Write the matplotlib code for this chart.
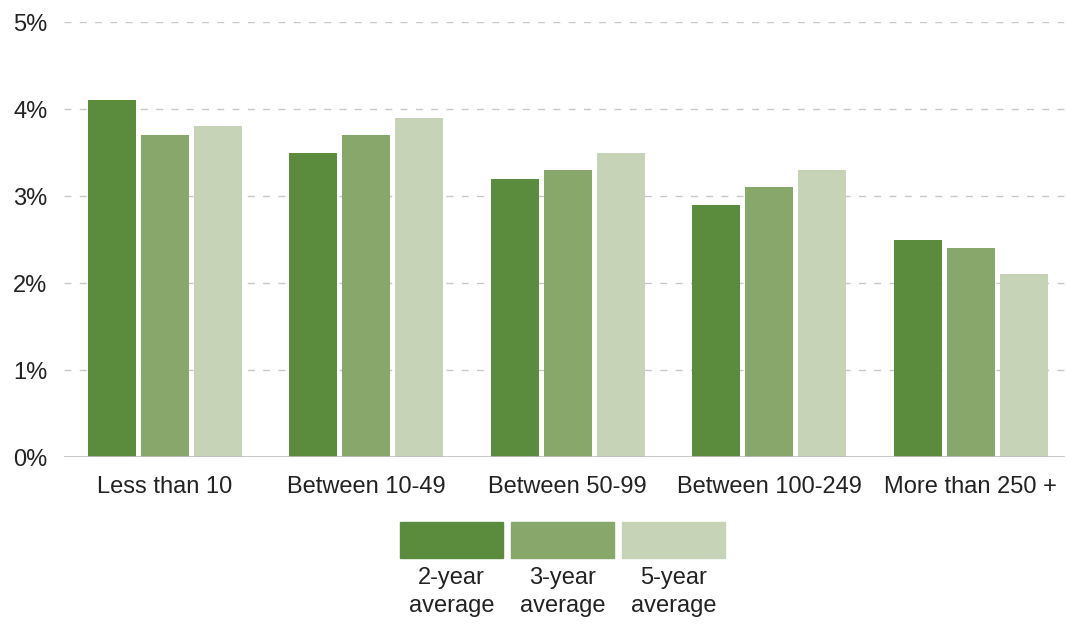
import numpy as np
import matplotlib.pyplot as plt
from matplotlib.patches import Rectangle

plt.rcParams['font.family'] = ['Liberation Sans', 'DejaVu Sans']

categories = ['Less than 10', 'Between 10-49', 'Between 50-99', 'Between 100-249', 'More than 250 +']
avg_2y = [4.1, 3.5, 3.2, 2.9, 2.5]
avg_3y = [3.7, 3.7, 3.3, 3.1, 2.4]
avg_5y = [3.8, 3.9, 3.5, 3.3, 2.1]
series_labels = ['2-year\naverage', '3-year\naverage', '5-year\naverage']
colors = ['#5b8c3e', '#88a86b', '#c7d3b6']

fig = plt.figure(figsize=(10.67, 6.24), dpi=100)
ax = fig.add_axes([0.06, 0.2676, 0.938, 0.6971])

x = np.arange(len(categories))
width = 0.238
step = 0.263
for i, vals in enumerate([avg_2y, avg_3y, avg_5y]):
    ax.bar(x + (i - 1) * step, vals, width, color=colors[i], zorder=3)

ax.set_ylim(0, 5)
ax.set_xlim(-0.5, 4.467)
ax.set_yticks(range(6))
ax.set_yticklabels(['{}%'.format(v) for v in range(6)])
ax.set_xticks(x)
ax.set_xticklabels(categories)
ax.tick_params(axis='both', length=0, labelsize=17, colors='#222222')
ax.tick_params(axis='y', pad=12)
ax.tick_params(axis='x', pad=14)

# dashed gridlines, solid baseline
for v in range(1, 6):
    ax.axhline(v, color='#c8c8c8', linestyle=(0, (5, 6)), linewidth=1, zorder=1)
ax.axhline(0, color='#bfbfbf', linewidth=1.2, zorder=4)
for s in ax.spines.values():
    s.set_visible(False)

# legend below the chart: colour blocks with two-line labels underneath
box_w = 103 / 1067
box_h = 36 / 624
lefts = [400 / 1067, 511 / 1067, 622 / 1067]
for left, c, lab in zip(lefts, colors, series_labels):
    fig.patches.append(Rectangle((left, 1 - 558 / 624), box_w, box_h,
                                 transform=fig.transFigure, color=c))
    fig.text(left + box_w / 2, 1 - 567 / 624, lab, ha='center', va='top',
             fontsize=17, color='#222222', linespacing=1.35)

plt.savefig('out.png', dpi=100)
